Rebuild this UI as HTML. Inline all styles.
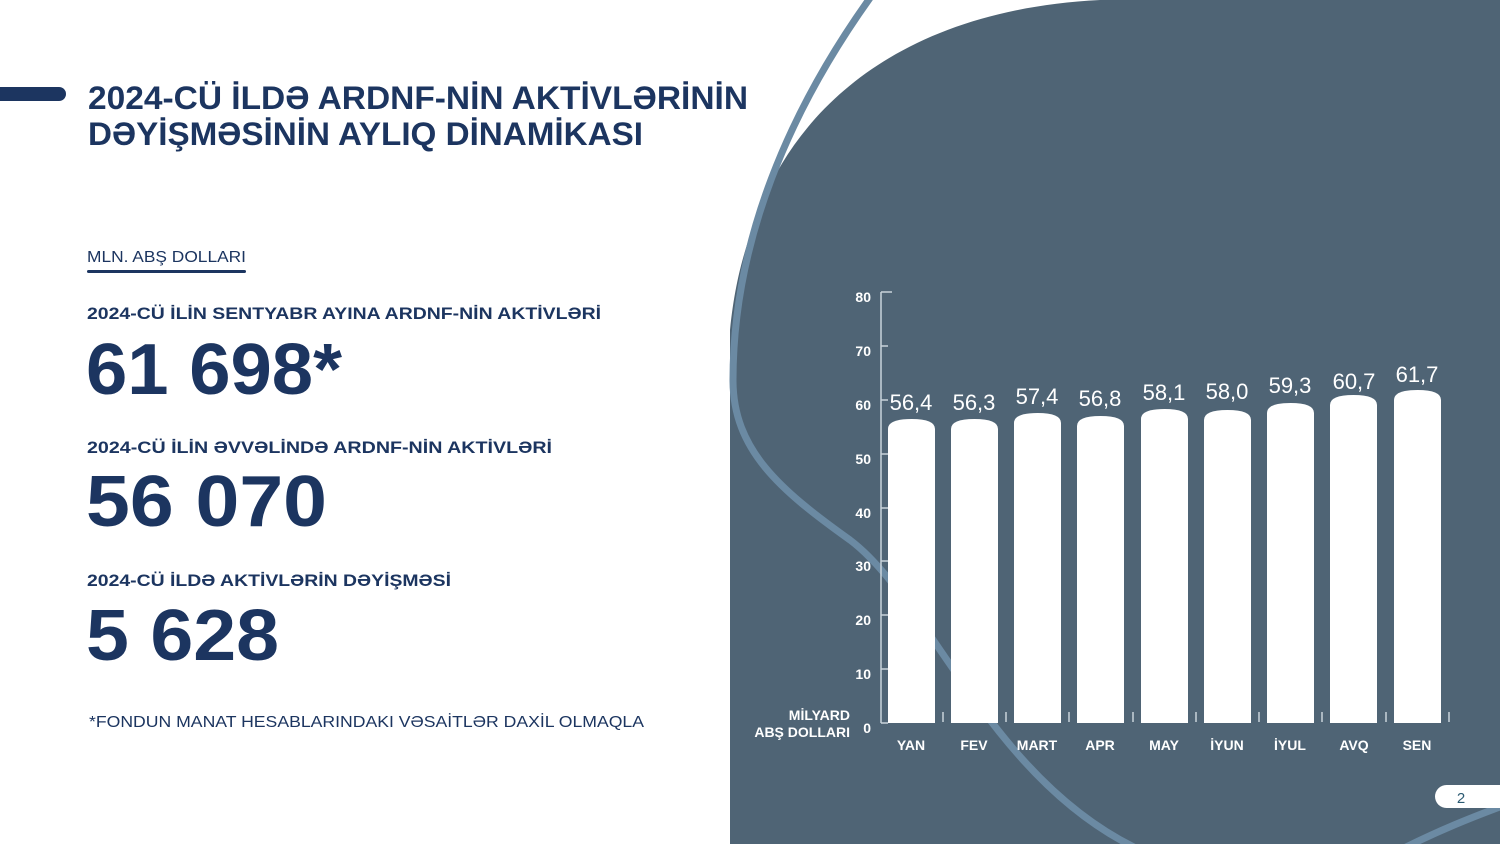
<!DOCTYPE html>
<html><head><meta charset="utf-8"><style>
html,body{margin:0;padding:0;background:#fff;}
svg{display:block;}
text{font-family:"Liberation Sans",sans-serif;}
</style></head><body>
<svg width="1500" height="844" viewBox="0 0 1500 844" xmlns="http://www.w3.org/2000/svg">
<rect width="1500" height="844" fill="#fff"/>
<path d="M730,844 L730,330 C735,280 745,250 752,230 C790,110 900,10 1100,0 L1500,0 L1500,844 Z" fill="#4f6475"/>
<path d="M870,-2 C790,110 733,240 733,380 C733,450 780,490 850,540 C930,600 990,780 1140,850" fill="none" stroke="#6b8aa3" stroke-width="7"/>
<path d="M1400,850 C1440,830 1470,818 1505,805" fill="none" stroke="#6b8aa3" stroke-width="7"/>
<rect x="-10" y="87" width="76" height="14" rx="7" fill="#1c3560"/>
<g fill="#1c3560" font-weight="bold">
<text x="88" y="109" font-size="32" textLength="660" lengthAdjust="spacingAndGlyphs">2024-CÜ İLDƏ ARDNF-NİN AKTİVLƏRİNİN</text>
<text x="88" y="145" font-size="32" textLength="555" lengthAdjust="spacingAndGlyphs">DƏYİŞMƏSİNİN AYLIQ DİNAMİKASI</text>
<text x="87" y="319" font-size="17" textLength="514" lengthAdjust="spacingAndGlyphs">2024-CÜ İLİN SENTYABR AYINA ARDNF-NİN AKTİVLƏRİ</text>
<text x="86" y="394" font-size="72" textLength="256" lengthAdjust="spacingAndGlyphs">61 698*</text>
<text x="87" y="453" font-size="17" textLength="465" lengthAdjust="spacingAndGlyphs">2024-CÜ İLİN ƏVVƏLİNDƏ ARDNF-NİN AKTİVLƏRİ</text>
<text x="86" y="526" font-size="72" textLength="241" lengthAdjust="spacingAndGlyphs">56 070</text>
<text x="87" y="586" font-size="17" textLength="364" lengthAdjust="spacingAndGlyphs">2024-CÜ İLDƏ AKTİVLƏRİN DƏYİŞMƏSİ</text>
<text x="86" y="660" font-size="72" textLength="193" lengthAdjust="spacingAndGlyphs">5 628</text>
</g>
<g fill="#1c3560">
<text x="87" y="262" font-size="16" textLength="159" lengthAdjust="spacingAndGlyphs">MLN. ABŞ DOLLARI</text>
<text x="89" y="727" font-size="16" textLength="555" lengthAdjust="spacingAndGlyphs">*FONDUN MANAT HESABLARINDAKI VƏSAİTLƏR DAXİL OLMAQLA</text>
</g>
<rect x="87" y="270" width="159" height="3" rx="1.5" fill="#1c3560"/>
<g stroke="#c9d3db" stroke-width="1.5" fill="none">
<line x1="881" y1="292" x2="881" y2="723"/>
<line x1="881" y1="292" x2="892" y2="292"/>
<line x1="881" y1="346" x2="888" y2="346"/>
<line x1="881" y1="400" x2="888" y2="400"/>
<line x1="881" y1="454" x2="888" y2="454"/>
<line x1="881" y1="508" x2="888" y2="508"/>
<line x1="881" y1="561" x2="888" y2="561"/>
<line x1="881" y1="615" x2="888" y2="615"/>
<line x1="881" y1="669" x2="888" y2="669"/>
<line x1="881" y1="723" x2="888" y2="723"/>
<line x1="943" y1="712" x2="943" y2="722"/><line x1="1006" y1="712" x2="1006" y2="722"/><line x1="1069" y1="712" x2="1069" y2="722"/><line x1="1133" y1="712" x2="1133" y2="722"/><line x1="1196" y1="712" x2="1196" y2="722"/><line x1="1259" y1="712" x2="1259" y2="722"/><line x1="1322" y1="712" x2="1322" y2="722"/><line x1="1386" y1="712" x2="1386" y2="722"/><line x1="1449" y1="712" x2="1449" y2="722"/>
</g>
<g fill="#fff" font-weight="bold" font-size="14" text-anchor="end">
<text x="871" y="302">80</text><text x="871" y="356">70</text><text x="871" y="410">60</text><text x="871" y="464">50</text><text x="871" y="518">40</text><text x="871" y="571">30</text><text x="871" y="625">20</text><text x="871" y="679">10</text><text x="871" y="733">0</text>
<text x="850" y="720" font-size="14">MİLYARD</text>
<text x="850" y="737" font-size="14">ABŞ DOLLARI</text>
</g>
<g fill="#fff">
<path d="M888,723 L888,429 Q888,419 911.5,419 Q935,419 935,429 L935,723 Z"/>
<path d="M951,723 L951,429 Q951,419 974.5,419 Q998,419 998,429 L998,723 Z"/>
<path d="M1014,723 L1014,423 Q1014,413 1037.5,413 Q1061,413 1061,423 L1061,723 Z"/>
<path d="M1077,723 L1077,426 Q1077,416 1100.5,416 Q1124,416 1124,426 L1124,723 Z"/>
<path d="M1141,723 L1141,419 Q1141,409 1164.5,409 Q1188,409 1188,419 L1188,723 Z"/>
<path d="M1204,723 L1204,420 Q1204,410 1227.5,410 Q1251,410 1251,420 L1251,723 Z"/>
<path d="M1267,723 L1267,413 Q1267,403 1290.5,403 Q1314,403 1314,413 L1314,723 Z"/>
<path d="M1330,723 L1330,405 Q1330,395 1353.5,395 Q1377,395 1377,405 L1377,723 Z"/>
<path d="M1394,723 L1394,400 Q1394,390 1417.5,390 Q1441,390 1441,400 L1441,723 Z"/>
</g>
<g fill="#fff" font-size="22" text-anchor="middle">
<text x="911" y="410">56,4</text><text x="974" y="410">56,3</text><text x="1037" y="404">57,4</text><text x="1100" y="406">56,8</text><text x="1164" y="400">58,1</text><text x="1227" y="399">58,0</text><text x="1290" y="393">59,3</text><text x="1354" y="389">60,7</text><text x="1417" y="382">61,7</text>
</g>
<g fill="#fff" font-size="14" font-weight="bold" text-anchor="middle">
<text x="911" y="750">YAN</text><text x="974" y="750">FEV</text><text x="1037" y="750">MART</text><text x="1100" y="750">APR</text><text x="1164" y="750">MAY</text><text x="1227" y="750">İYUN</text><text x="1290" y="750">İYUL</text><text x="1354" y="750">AVQ</text><text x="1417" y="750">SEN</text>
</g>
<rect x="1435" y="785" width="80" height="23" rx="11.5" fill="#fff"/>
<text x="1461" y="803" font-size="15" fill="#2b5a72" text-anchor="middle">2</text>
</svg>
</body></html>
